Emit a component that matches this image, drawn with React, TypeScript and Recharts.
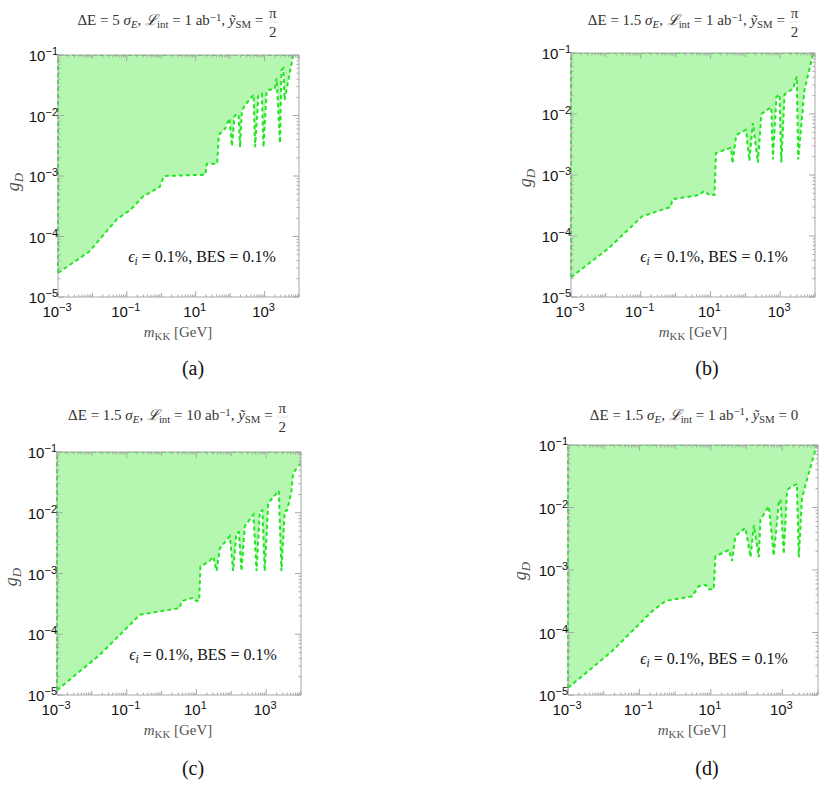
import React from "react";
import { ComposedChart, Area, XAxis, YAxis, ReferenceLine } from "recharts";

// panel (a): dE = 5 sigma_E, L = 1 ab^-1, y_SM = pi/2
const mA = [0.001, 0.008, 0.05, 0.13, 0.3, 0.9, 1.2, 19, 21, 42, 47, 72, 95, 113, 135, 176, 194, 219, 380, 480, 530, 660, 830, 930, 1150, 2000, 2240, 2800, 3100, 3500, 3800, 6800];
const gA = [2.5e-5, 5.6e-5, 1.9e-4, 2.8e-4, 4.6e-4, 6.6e-4, 1.0e-3, 1.05e-3, 1.6e-3, 1.6e-3, 4.8e-3, 6.1e-3, 9e-3, 3.1e-3, 1.0e-2, 1.05e-2, 3.0e-3, 1.23e-2, 1.9e-2, 2.2e-2, 3.0e-3, 2.1e-2, 2.3e-2, 3.0e-3, 2.6e-2, 2.8e-2, 4.1e-2, 3.5e-3, 5.6e-2, 6.0e-2, 1.8e-2, 0.1];

// panel (b): dE = 1.5 sigma_E, L = 1 ab^-1, y_SM = pi/2
const mB = [0.001, 0.012, 0.11, 0.73, 0.81, 4.8, 6.6, 9.3, 13, 14.5, 39, 43, 55, 105, 131, 165, 230, 290, 555, 620, 780, 960, 1080, 1340, 2350, 3000, 3300, 5000, 8900];
const gB = [2.1e-5, 6.3e-5, 2.1e-4, 3.0e-4, 4.0e-4, 4.7e-4, 5.5e-4, 4.7e-4, 4.7e-4, 2.3e-3, 2.8e-3, 1.55e-3, 4.5e-3, 5.5e-3, 1.7e-3, 7.1e-3, 1.6e-3, 1.0e-2, 1.3e-2, 1.8e-3, 1.9e-2, 2.1e-2, 1.6e-3, 2.1e-2, 2.6e-2, 4.1e-2, 1.8e-3, 2.5e-2, 0.1];

// panel (c): dE = 1.5 sigma_E, L = 10 ab^-1, y_SM = pi/2
const mC = [0.001, 0.017, 0.24, 3.35, 3.7, 8.1, 10, 12, 13, 24, 30, 38, 47, 91, 113, 140, 165, 196, 245, 430, 530, 660, 780, 910, 1150, 2000, 2300, 2750, 3400, 4000, 5300, 5900, 8200, 10000];
const gC = [1.2e-5, 4.6e-5, 2.1e-4, 2.7e-4, 3.5e-4, 4.0e-4, 3.5e-4, 3.6e-4, 1.3e-3, 1.6e-3, 1.9e-3, 1.1e-3, 2.6e-3, 4.1e-3, 1.1e-3, 4.6e-3, 4.8e-3, 1.1e-3, 6e-3, 9.3e-3, 1.1e-3, 1.05e-2, 1.1e-2, 1.1e-3, 1.44e-2, 2.1e-2, 2.3e-2, 1.1e-3, 1.05e-2, 1.1e-2, 2.2e-2, 4.4e-2, 5.8e-2, 6.5e-2];

// panel (d): dE = 1.5 sigma_E, L = 1 ab^-1, y_SM = 0
const mD = [0.001, 0.017, 0.23, 0.54, 3, 4.6, 7.1, 8.7, 12, 13.5, 32, 39, 49, 93, 129, 160, 219, 245, 420, 575, 800, 890, 1100, 1350, 1500, 2560, 2900, 3550, 4450, 9300];
const gD = [1.3e-5, 5e-5, 2.2e-4, 3.2e-4, 3.8e-4, 5.5e-4, 5.8e-4, 4.9e-4, 4.9e-4, 1.66e-3, 2.1e-3, 1.4e-3, 3.5e-3, 4.7e-3, 1.6e-3, 5.2e-3, 1.6e-3, 6.4e-3, 1.05e-2, 1.7e-3, 1.2e-2, 1.35e-2, 1.8e-3, 1.7e-2, 2.0e-2, 2.4e-2, 1.6e-3, 1.36e-2, 2.3e-2, 0.1];

const xLabelTicks = [1e-3, 1e-1, 1e1, 1e3];
const yLabelTicks = [1e-5, 1e-4, 1e-3, 1e-2, 1e-1];
const xDomain = [1e-3, 1e4];
const yDomain = [1e-5, 1e-1];
const gTop = 0.1;

const serif = "'Liberation Serif', 'DejaVu Serif', serif";
const sans = "'Liberation Sans', Arial, sans-serif";
const frame = "#a8a8a8";
const lineGreen = "#22e622";
const fillGreen = "#b5f7b0";

// 1..9 x 10^k minor ticks for the log frame
const logTicks = (lo: number, hi: number) => {
  const out: number[] = [];
  for (let k = lo; k < hi; k++) for (let j = 1; j < 10; j++) out.push(j * Math.pow(10, k));
  out.push(Math.pow(10, hi));
  return out;
};
const xTicks = logTicks(-3, 4);
const yTicks = logTicks(-5, -1);

const isDecade = (v: number) => {
  const e = Math.log10(v);
  return Math.abs(e - Math.round(e)) < 1e-6;
};
const hasLabel = (v: number, list: number[]) => list.some((t) => Math.abs(Math.log10(t) - Math.log10(v)) < 1e-6);

const Pow = ({ x, y, v, anchor }: any) => {
  const e = Math.round(Math.log10(v));
  return (
    <text x={x} y={y} textAnchor={anchor} fontFamily={sans} fontSize={15} fill="#111">
      10
      <tspan dy={-6} fontSize={11}>{e < 0 ? "\u2212" + Math.abs(e) : e}</tspan>
    </text>
  );
};

const XTick = ({ x, y, payload, h }: any) => {
  const v = payload.value;
  const len = hasLabel(v, xLabelTicks) ? 6 : isDecade(v) ? 4 : 2.5;
  return (
    <g>
      <line x1={x} y1={y} x2={x} y2={y - len} stroke={frame} />
      <line x1={x} y1={y - h} x2={x} y2={y - h + len} stroke={frame} />
      {hasLabel(v, xLabelTicks) && <Pow x={x - 1} y={y + 20} v={v} anchor="middle" />}
    </g>
  );
};

const YTick = ({ x, y, payload, w }: any) => {
  const v = payload.value;
  const len = isDecade(v) ? 6 : 2.5;
  return (
    <g>
      <line x1={x} y1={y} x2={x + len} y2={y} stroke={frame} />
      <line x1={x + w} y1={y} x2={x + w - len} y2={y} stroke={frame} />
      {hasLabel(v, yLabelTicks) && <Pow x={x} y={y + 6} v={v} anchor="end" />}
    </g>
  );
};

interface PanelProps { m: number[]; g: number[]; left: number; top: number; w: number; h: number }

const Panel = ({ m, g, left, top, w, h }: PanelProps) => {
  const data = m.map((v, i) => ({ m: v, band: [g[i], gTop] }));
  const padL = 50, padT = 10, padR = 12, padB = 30;
  return (
    <div style={{ position: "absolute", left: left - padL, top: top - padT }}>
      <ComposedChart width={w + padL + padR} height={h + padT + padB} data={data}
        margin={{ top: padT, right: padR, bottom: 0, left: padL - 40 }}>
        <XAxis type="number" dataKey="m" scale="log" domain={xDomain} allowDataOverflow ticks={xTicks} interval={0}
          height={padB} tickSize={0} tickMargin={0} tickLine={false} axisLine={{ stroke: frame }}
          tick={(p: any) => <XTick {...p} h={h} />} />
        <YAxis type="number" scale="log" domain={yDomain} allowDataOverflow ticks={yTicks} interval={0}
          width={40} tickSize={0} tickMargin={0} tickLine={false} axisLine={{ stroke: frame }}
          tick={(p: any) => <YTick {...p} w={w} />} />
        <ReferenceLine y={gTop} stroke={frame} ifOverflow="visible" />
        <ReferenceLine x={xDomain[1]} stroke={frame} ifOverflow="visible" />
        <Area dataKey="band" type="linear" stroke={lineGreen} strokeWidth={2} strokeDasharray="4 3"
          fill={fillGreen} fillOpacity={1} dot={false} activeDot={false} isAnimationActive={false} />
        <ReferenceLine segment={[{ x: xDomain[0], y: g[0] }, { x: xDomain[0], y: gTop }]} ifOverflow="visible"
          stroke={lineGreen} strokeWidth={2} strokeDasharray="4 3" />
      </ComposedChart>
    </div>
  );
};

const Txt = ({ x, y, size, color, rotate, children }: any) => (
  <div style={{
    position: "absolute", left: x, top: y, transform: `translate(-50%, -50%)${rotate ? " rotate(-90deg)" : ""}`,
    fontFamily: serif, fontSize: size, color, whiteSpace: "nowrap", lineHeight: 1,
  }}>{children}</div>
);

const sub = { fontSize: "0.72em", verticalAlign: "-0.28em" };
const sup = { fontSize: "0.72em", verticalAlign: "0.45em" };

const Frac = () => (
  <span style={{ display: "inline-flex", flexDirection: "column", alignItems: "center", verticalAlign: "middle", lineHeight: 1.2 }}>
    <span>π</span>
    <span style={{ borderTop: "1px solid #e4e4e4", padding: "0 2px" }}>2</span>
  </span>
);

const Title = ({ x, y, dE, lumi, half }: any) => (
  <Txt x={x} y={y} size={15} color="#333">
    ΔE = {dE} <i>σ</i><i style={sub}>E</i>, <i>ℒ</i><span style={sub}>int</span> = {lumi} ab<span style={sup}>−1</span>, <i>ỹ</i><span style={sub}>SM</span> = {half ? <Frac /> : "0"}
  </Txt>
);

const Decor = ({ tx, ty, dE, lumi, half, gx, gy, mx, my, ax, ay, cx, cy, cap }: any) => (
  <>
    <Title x={tx} y={ty} dE={dE} lumi={lumi} half={half} />
    <Txt x={gx} y={gy} size={18} color="#555" rotate><i>g</i><i style={sub}>D</i></Txt>
    <Txt x={mx} y={my} size={15} color="#555"><i>m</i><span style={sub}>KK</span> [GeV]</Txt>
    <Txt x={ax} y={ay} size={16} color="#111"><i>ϵ</i><i style={sub}>i</i> = 0.1%, BES = 0.1%</Txt>
    <Txt x={cx} y={cy} size={20} color="#111">({cap})</Txt>
  </>
);

export default function App() {
  return (
    <div style={{ position: "absolute", left: 0, top: 0, width: 825, height: 786, background: "#fff" }}>
      <Panel m={mA} g={gA} left={58} top={55} w={241} h={242} />
      <Panel m={mB} g={gB} left={571} top={53} w={244} h={244} />
      <Panel m={mC} g={gC} left={57} top={452} w={244} h={243} />
      <Panel m={mD} g={gD} left={568} top={445} w={250} h={250} />
      <Decor tx={178} ty={22} dE="5" lumi="1" half gx={15} gy={182} mx={178} my={333} ax={202} ay={258} cx={193} cy={368} cap="a" />
      <Decor tx={694} ty={22} dE="1.5" lumi="1" half gx={527} gy={178} mx={693} my={333} ax={714} ay={258} cx={707} cy={368} cap="b" />
      <Decor tx={178} ty={417} dE="1.5" lumi="10" half gx={13} gy={577} mx={178} my={731} ax={203} ay={656} cx={193} cy={768} cap="c" />
      <Decor tx={694} ty={415} dE="1.5" lumi="1" half={false} gx={522} gy={571} mx={692} my={731} ax={714} ay={660} cx={707} cy={768} cap="d" />
    </div>
  );
}
